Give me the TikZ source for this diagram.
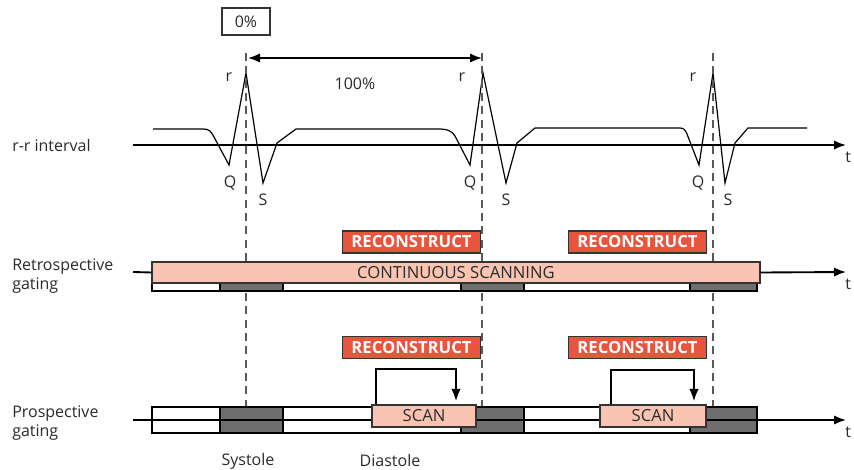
\documentclass[tikz,border=0pt]{standalone}
\usepackage{fontspec}
\setmainfont{Open Sans}
\usepackage{tikz}
\usetikzlibrary{positioning, arrows.meta}
\definecolor{recred}{HTML}{E8553C}
\definecolor{scanpink}{HTML}{FAC4B2}
\definecolor{bargray}{HTML}{6E6E6E}
\definecolor{txtgray}{HTML}{2A2A2A}

\begin{document}
\begin{tikzpicture}[
    x=0.75pt, y=-0.75pt,
    every node/.style={draw=none, inner sep=0pt, font=\fontsize{12}{14}\selectfont, text=txtgray},
    every path/.style={black},
    recbox/.style={draw=black!80, fill=recred, text=white, line width=0.8pt,
        font=\fontsize{12.5}{14}\selectfont\bfseries, minimum width=103pt, minimum height=16.5pt},
    scanbox/.style={draw=black!80, fill=scanpink, line width=0.8pt, minimum height=16.5pt,
        font=\fontsize{12.5}{14}\selectfont},
    axis/.style={line width=1.4pt},
    gate/.style={draw=black!65, line width=0.9pt, dash pattern=on 6pt off 4pt},
    >={Latex[length=9pt, width=7pt]}
]
\useasboundingbox (0,0) rectangle (854,470);

% Nodos
\node (zero) [draw=black!80, line width=1.1pt, minimum width=36pt, minimum height=20pt] at (246,21.5) {0\%};
\node (hundred) at (355,84) {100\%};
\node (rr) [anchor=west] at (12,146) {r-r interval};
\node (retro) [anchor=west, align=left] at (12,276) {Retrospective\\gating};
\node (prosp) [anchor=west, align=left] at (12,423) {Prospective\\gating};
\node (sys) at (248,461) {Systole};
\node (dia) at (390,461) {Diastole};

% ECG
\draw[line width=0.9pt, line join=miter]
    (153,129) -- (203,129) .. controls (209,129) and (211,131) .. (214,137)
    -- (229,165) -- (246,73) -- (263,183) -- (277,143) -- (296,129)
    -- (440,129) .. controls (447,129) and (452,131) .. (455,136)
    -- (470,165) -- (483,73) -- (506,183) -- (517,143) -- (535,128)
    -- (680,128) .. controls (684,128) and (685,130) .. (687,134)
    -- (699,165) -- (713,73) -- (725,183) -- (735,143) -- (748,128) -- (807,128);
\foreach \i/\rx/\qx/\sx in {1/229/230/263, 2/462/470/506, 3/693/698/728} {
    \node (r\i) at (\rx,77) {r};
    \node (Q\i) at (\qx,183) {Q};
    \node (S\i) at (\sx,200) {S};
}
\coordinate (rrstart) at (133,145);
\coordinate (rrend) at (846,145);
\draw[axis, ->] (rrstart) -- (rrend);
\node (t1) [anchor=west] at (845,157) {t};

% Lineas de fase
\foreach \i/\x in {1/246, 2/482, 3/713} {
    \coordinate (gtop\i) at (\x,53);
    \coordinate (gbot\i) at (\x,407);
    \draw[gate] (gtop\i) -- (gbot\i);
}
\coordinate (hl) at (248,58);
\coordinate (hr) at (482,58);
\draw[line width=1.4pt, <->] (hl) -- (hr);

% Retrospectivo
\foreach \a/\b/\c in {152/220/white, 220/283/bargray, 283/461/white, 461/524/bargray, 524/690/white, 690/757/bargray}
    \draw[line width=0.8pt, fill=\c] (\a,283) rectangle (\b,291);
\node (cont) [scanbox, minimum width=456pt, minimum height=15.75pt] at (456,272.5) {CONTINUOUS SCANNING};
\node (rec1) [recbox] at (411.5,242) {RECONSTRUCT};
\node (rec2) [recbox] at (637.5,242) {RECONSTRUCT};
\coordinate (retstart) at (133,272);
\coordinate (retend) at (846,272);
\draw[axis] (retstart) -- (cont.west);
\draw[axis, ->] (cont.east) -- (retend);
\node (t2) [anchor=west] at (845,284) {t};

% Prospectivo
\node (pbar) [minimum width=453.75pt, minimum height=19.5pt] at (454.5,420) {};
\foreach \a/\b/\c in {152/220/white, 220/283/bargray, 283/461/white, 461/524/bargray, 524/690/white, 690/757/bargray} {
    \draw[line width=0.9pt, fill=\c] (\a,407) rectangle (\b,420);
    \draw[line width=0.9pt, fill=\c] (\a,420) rectangle (\b,433);
}
\node (scan1) [scanbox, minimum width=78pt] at (424,416) {SCAN};
\node (scan2) [scanbox, minimum width=79.5pt] at (653,416) {SCAN};
\node (prec1) [recbox] at (411.5,347.5) {RECONSTRUCT};
\node (prec2) [recbox] at (637.5,347.5) {RECONSTRUCT};
\coordinate (prostart) at (133,420);
\coordinate (proend) at (846,420);
\draw[axis] (prostart) -- (pbar.west);
\draw[axis, ->] (pbar.east) -- (proend);
\node (t3) [anchor=west] at (845,432) {t};

% Flechas de disparo
\coordinate (b1s) at (376,404);
\coordinate (b1e) at (456,401);
\coordinate (b2s) at (611,404);
\coordinate (b2e) at (694,401);
\draw[line width=1pt, ->] (b1s) -- ++(0,-35) -| (b1e);
\draw[line width=1pt, ->] (b2s) -- ++(0,-34) -| (b2e);

\end{tikzpicture}
\end{document}
